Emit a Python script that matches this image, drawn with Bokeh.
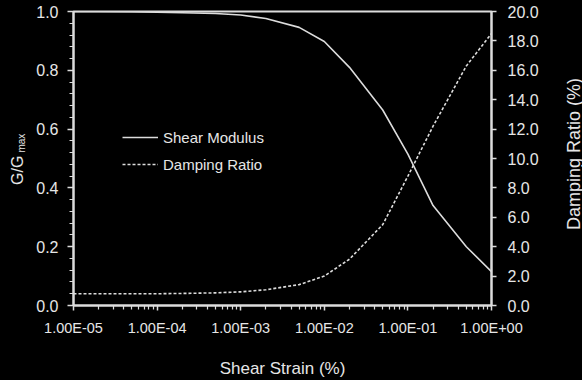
import math
from bokeh.plotting import figure
from bokeh.layouts import row
from bokeh.models import (Range1d, LinearAxis, FixedTicker, NumeralTickFormatter, Legend)
from bokeh.core.properties import value
from bokeh.embed import file_html
from bokeh.resources import INLINE

# ---- data ----
strain = [1e-5, 2e-5, 5e-5, 1e-4, 2e-4, 5e-4, 1e-3, 2e-3, 5e-3,
          1e-2, 2e-2, 5e-2, 1e-1, 2e-1, 5e-1, 1.0]
g_ratio = [1.0, 1.0, 0.999, 0.998, 0.996, 0.993, 0.988, 0.976, 0.946,
           0.898, 0.81, 0.665, 0.515, 0.34, 0.20, 0.115]
damping = [0.8, 0.8, 0.8, 0.8, 0.82, 0.86, 0.93, 1.07, 1.42,
           2.0, 3.15, 5.5, 8.8, 12.2, 16.3, 18.5]

x_ticks = [1e-5, 1e-4, 1e-3, 1e-2, 1e-1, 1.0]
x_tick_labels = ["1.00E-05", "1.00E-04", "1.00E-03", "1.00E-02", "1.00E-01", "1.00E+00"]
y_ticks = [0.0, 0.2, 0.4, 0.6, 0.8, 1.0]
y2_ticks = [0, 2, 4, 6, 8, 10, 12, 14, 16, 18, 20]

FG = "#e6e6e6"
LINE = "#dcdcdc"
FONT = "Liberation Sans"
H = 380
TOP = 11
BOTTOM = 74

# ---- main chart ----
p = figure(width=522, height=H, x_axis_type="log",
           x_range=Range1d(1e-5, 1.0), y_range=Range1d(0, 1.0),
           output_backend="svg", toolbar_location=None,
           min_border_left=43, min_border_right=61, min_border_top=TOP, min_border_bottom=BOTTOM)
p.background_fill_color = "black"
p.border_fill_color = "black"
p.outline_line_color = LINE
p.outline_line_width = 2
p.xgrid.visible = False
p.ygrid.visible = False

p.extra_y_ranges = {"damp": Range1d(0, 20)}

l1 = p.line(strain, g_ratio, line_color=LINE, line_width=1.6)
l2 = p.line(strain, damping, y_range_name="damp", line_color=LINE, line_width=1.6,
            line_dash="3 2")

x_minor = [m * 10.0 ** k for k in range(-5, 0) for m in range(2, 10)]
y_minor = [i * 0.04 for i in range(26)]

def style_axis(ax, size):
    ax.axis_line_color = LINE
    ax.axis_line_width = 2
    ax.major_tick_line_color = LINE
    ax.minor_tick_line_color = LINE
    ax.major_tick_line_width = 1.5
    ax.minor_tick_line_width = 1.2
    ax.major_tick_in = 0
    ax.minor_tick_in = 0
    ax.major_label_text_color = FG
    ax.major_label_text_font = FONT
    ax.major_label_text_font_size = size
    ax.axis_label_text_color = FG
    ax.axis_label_text_font = FONT
    ax.axis_label_text_font_size = "17px"
    ax.axis_label_text_font_style = "normal"

xa = p.xaxis[0]
xa.ticker = FixedTicker(ticks=x_ticks, minor_ticks=x_minor)
xa.major_label_overrides = {t: s for t, s in zip(x_ticks, x_tick_labels)}
style_axis(xa, "14.5px")
xa.major_tick_out = 5
xa.minor_tick_out = 4
xa.major_label_standoff = 9
xa.axis_label = "Shear Strain (%)"
xa.axis_label_standoff = 20

ya = p.yaxis[0]
ya.ticker = FixedTicker(ticks=y_ticks, minor_ticks=y_minor)
ya.formatter = NumeralTickFormatter(format="0.0")
style_axis(ya, "16px")
ya.major_tick_out = 6
ya.minor_tick_out = 4
ya.major_label_standoff = 9

ra = LinearAxis(y_range_name="damp")
ra.ticker = FixedTicker(ticks=y2_ticks, minor_ticks=[])
ra.formatter = NumeralTickFormatter(format="0.0")
style_axis(ra, "16px")
ra.major_tick_out = 5
ra.minor_tick_out = 0
ra.major_label_standoff = 11
p.add_layout(ra, "right")

legend = Legend(items=[("Shear Modulus", [l1]), ("Damping Ratio", [l2])],
                location=(49, 131))
legend.background_fill_alpha = 0
legend.border_line_alpha = 0
legend.padding = 0
legend.margin = 0
legend.spacing = 7
legend.glyph_width = 36
legend.glyph_height = 20
legend.label_height = 20
legend.label_standoff = 5
legend.label_text_color = FG
legend.label_text_font = FONT
legend.label_text_font_size = "15px"
p.add_layout(legend)

# ---- side strips holding the vertical axis titles ----
# y range is set so that one data unit equals one page pixel (measured from the top)
def strip(width):
    s = figure(width=width, height=H, x_range=Range1d(0, width),
               y_range=Range1d(H - BOTTOM, TOP),
               output_backend="svg", toolbar_location=None,
               x_axis_location=None, y_axis_location=None,
               min_border_left=0, min_border_right=0,
               min_border_top=TOP, min_border_bottom=BOTTOM)
    s.background_fill_color = "black"
    s.border_fill_color = "black"
    s.outline_line_color = None
    s.xgrid.visible = False
    s.ygrid.visible = False
    return s

left = strip(30)
left.text(x=[16.5], y=[185], text=["G/G"], angle=math.pi / 2,
          text_align="left", text_baseline="alphabetic",
          text_color=FG, text_font=value(FONT), text_font_size="16px")
left.text(x=[20.5], y=[152.5], text=["max"], angle=math.pi / 2,
          text_align="left", text_baseline="alphabetic",
          text_color=FG, text_font=value(FONT), text_font_size="10px")

right = strip(30)
right.text(x=[21], y=[154], text=["Damping Ratio (%)"], angle=math.pi / 2,
           text_align="center", text_baseline="alphabetic",
           text_color=FG, text_font=value(FONT), text_font_size="18px")

layout = row(left, p, right, spacing=0)

html = file_html(layout, INLINE)
html = html.replace("</head>", "<style>html, body { background-color: #000000; }</style></head>", 1)
open("out.html", "w").write(html)
